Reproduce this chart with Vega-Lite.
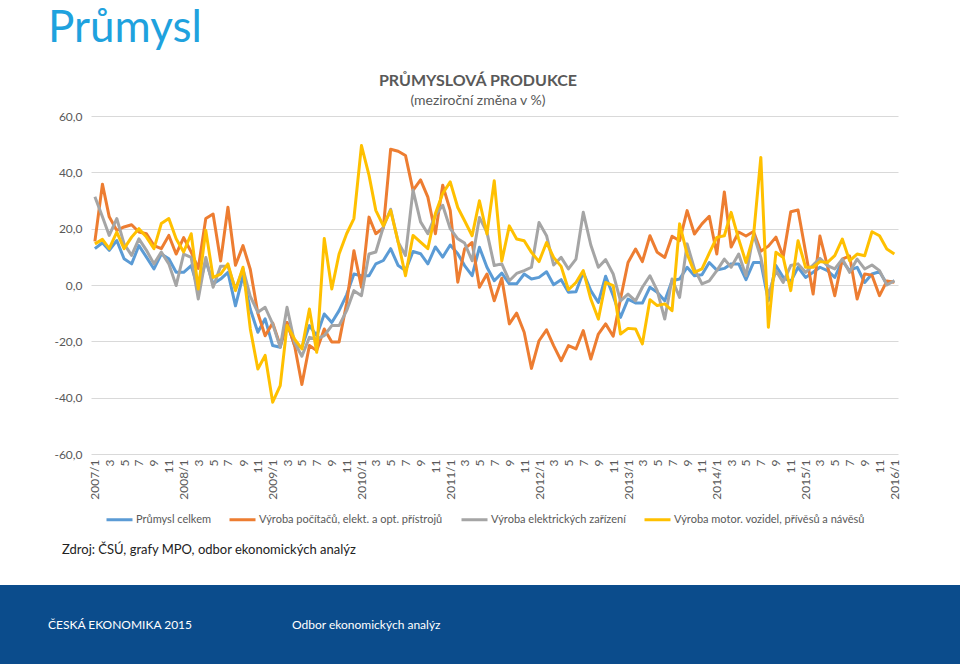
{
  "$schema": "https://vega.github.io/schema/vega-lite/v6.json",
  "padding": {"top": 7, "left": 0, "right": 0, "bottom": 0},
  "background": "white",
  "spacing": 18,
  "resolve": {"legend": {"color": "independent"}},
  "title": {"text": "Průmysl", "anchor": "start", "font": "Lato", "fontSize": 44, "fontWeight": "normal", "color": "#1FA2DE", "dx": 48, "offset": 22},
  "config": {
    "font": "Lato",
    "view": {"stroke": null},
    "axis": {"labelFont": "Lato", "labelFontSize": 12, "labelColor": "#595959", "ticks": false, "domain": false},
    "legend": {"labelFont": "Lato"},
    "locale": {"number": {"decimal": ",", "thousands": " ", "grouping": [3], "currency": ["", " Kč"], "minus": "-"}}
  },
  "vconcat": [
    {
      "width": 898,
      "height": 338,
      "title": {"text": "PRŮMYSLOVÁ PRODUKCE", "subtitle": "(meziroční změna v %)", "anchor": "middle", "frame": "group", "dx": 29, "font": "Lato", "fontSize": 16, "fontWeight": "bold", "color": "#595959", "subtitleFont": "Lato", "subtitleFontSize": 14, "subtitleColor": "#595959", "subtitlePadding": 5, "offset": 2},
      "data": {"values": [
        {"d":"2007/01/01","a":12.9,"b":15.5,"c":31.3,"e":14.6},
        {"d":"2007/02/01","a":15.0,"b":35.8,"c":24.2,"e":16.2},
        {"d":"2007/03/01","a":12.3,"b":24.2,"c":17.6,"e":12.9},
        {"d":"2007/04/01","a":15.8,"b":19.4,"c":23.6,"e":18.8},
        {"d":"2007/05/01","a":9.3,"b":20.6,"c":14.6,"e":12.9},
        {"d":"2007/06/01","a":7.5,"b":21.4,"c":10.5,"e":17.0},
        {"d":"2007/07/01","a":14.0,"b":18.8,"c":16.4,"e":20.0},
        {"d":"2007/08/01","a":9.9,"b":18.2,"c":12.3,"e":17.0},
        {"d":"2007/09/01","a":5.7,"b":14.0,"c":7.5,"e":12.9},
        {"d":"2007/10/01","a":11.0,"b":12.9,"c":11.7,"e":21.8},
        {"d":"2007/11/01","a":9.3,"b":17.6,"c":7.5,"e":23.6},
        {"d":"2007/12/01","a":4.5,"b":11.0,"c":-0.2,"e":16.4},
        {"d":"2008/01/01","a":4.5,"b":16.8,"c":11.0,"e":11.7},
        {"d":"2008/02/01","a":6.9,"b":11.7,"c":9.8,"e":18.2},
        {"d":"2008/03/01","a":-1.5,"b":5.9,"c":-5.0,"e":-1.4},
        {"d":"2008/04/01","a":8.7,"b":23.6,"c":9.8,"e":19.4},
        {"d":"2008/05/01","a":0.4,"b":25.2,"c":-0.8,"e":2.7},
        {"d":"2008/06/01","a":2.1,"b":8.5,"c":6.7,"e":3.9},
        {"d":"2008/07/01","a":4.5,"b":27.6,"c":6.7,"e":7.5},
        {"d":"2008/08/01","a":-7.4,"b":7.0,"c":-1.4,"e":-2.0},
        {"d":"2008/09/01","a":3.3,"b":14.0,"c":5.7,"e":6.3},
        {"d":"2008/10/01","a":-8.6,"b":5.5,"c":-4.0,"e":-15.6},
        {"d":"2008/11/01","a":-16.8,"b":-10.0,"c":-9.7,"e":-29.8},
        {"d":"2008/12/01","a":-12.0,"b":-18.0,"c":-7.9,"e":-25.0},
        {"d":"2009/01/01","a":-21.5,"b":-13.5,"c":-13.8,"e":-41.6},
        {"d":"2009/02/01","a":-22.1,"b":-21.5,"c":-22.1,"e":-35.7},
        {"d":"2009/03/01","a":-13.3,"b":-13.3,"c":-7.9,"e":-14.4},
        {"d":"2009/04/01","a":-21.5,"b":-21.5,"c":-20.4,"e":-19.2},
        {"d":"2009/05/01","a":-22.1,"b":-35.3,"c":-25.3,"e":-22.7},
        {"d":"2009/06/01","a":-14.4,"b":-21.5,"c":-18.6,"e":-8.5},
        {"d":"2009/07/01","a":-18.0,"b":-23.3,"c":-19.2,"e":-23.9},
        {"d":"2009/08/01","a":-10.3,"b":-15.6,"c":-18.0,"e":16.5},
        {"d":"2009/09/01","a":-13.3,"b":-20.2,"c":-14.4,"e":-1.4},
        {"d":"2009/10/01","a":-9.1,"b":-20.2,"c":-14.4,"e":11.0},
        {"d":"2009/11/01","a":-3.5,"b":-6.5,"c":-9.1,"e":18.2},
        {"d":"2009/12/01","a":3.9,"b":12.2,"c":-2.0,"e":23.6},
        {"d":"2010/01/01","a":3.3,"b":-0.8,"c":-3.8,"e":49.5},
        {"d":"2010/02/01","a":3.3,"b":24.1,"c":11.0,"e":39.0},
        {"d":"2010/03/01","a":7.5,"b":18.2,"c":11.7,"e":26.5},
        {"d":"2010/04/01","a":8.7,"b":20.3,"c":20.6,"e":21.0},
        {"d":"2010/05/01","a":12.9,"b":48.2,"c":26.9,"e":26.5},
        {"d":"2010/06/01","a":6.9,"b":47.5,"c":15.2,"e":15.2},
        {"d":"2010/07/01","a":5.1,"b":46.0,"c":10.5,"e":3.3},
        {"d":"2010/08/01","a":11.9,"b":33.6,"c":33.7,"e":17.6},
        {"d":"2010/09/01","a":11.1,"b":37.3,"c":22.4,"e":15.2},
        {"d":"2010/10/01","a":7.5,"b":31.2,"c":18.2,"e":12.9},
        {"d":"2010/11/01","a":13.5,"b":18.2,"c":24.8,"e":25.4},
        {"d":"2010/12/01","a":9.9,"b":35.4,"c":28.3,"e":32.5},
        {"d":"2011/01/01","a":14.2,"b":26.5,"c":20.0,"e":36.6},
        {"d":"2011/02/01","a":11.1,"b":1.0,"c":16.4,"e":27.5},
        {"d":"2011/03/01","a":6.9,"b":12.8,"c":14.9,"e":22.8},
        {"d":"2011/04/01","a":3.3,"b":15.1,"c":8.6,"e":17.5},
        {"d":"2011/05/01","a":13.4,"b":-0.8,"c":24.0,"e":29.9},
        {"d":"2011/06/01","a":6.3,"b":3.9,"c":18.7,"e":18.1},
        {"d":"2011/07/01","a":1.5,"b":-5.6,"c":6.9,"e":37.0},
        {"d":"2011/08/01","a":4.2,"b":2.4,"c":7.5,"e":8.5},
        {"d":"2011/09/01","a":0.4,"b":-13.8,"c":1.5,"e":21.0},
        {"d":"2011/10/01","a":0.4,"b":-10.0,"c":4.1,"e":16.3},
        {"d":"2011/11/01","a":3.9,"b":-16.8,"c":5.1,"e":15.7},
        {"d":"2011/12/01","a":2.1,"b":-29.6,"c":6.3,"e":11.6},
        {"d":"2012/01/01","a":2.7,"b":-19.8,"c":22.2,"e":8.3},
        {"d":"2012/02/01","a":4.7,"b":-15.9,"c":17.5,"e":15.1},
        {"d":"2012/03/01","a":0.1,"b":-21.5,"c":7.1,"e":9.8},
        {"d":"2012/04/01","a":1.9,"b":-26.9,"c":9.8,"e":6.6},
        {"d":"2012/05/01","a":-2.6,"b":-21.5,"c":5.7,"e":-1.7},
        {"d":"2012/06/01","a":-2.4,"b":-22.7,"c":9.2,"e":0.9},
        {"d":"2012/07/01","a":4.5,"b":-16.2,"c":25.8,"e":5.1},
        {"d":"2012/08/01","a":-2.0,"b":-26.3,"c":14.2,"e":-5.0},
        {"d":"2012/09/01","a":-6.2,"b":-17.4,"c":6.3,"e":-12.1},
        {"d":"2012/10/01","a":3.1,"b":-13.8,"c":9.0,"e":0.9},
        {"d":"2012/11/01","a":-3.8,"b":-18.2,"c":3.9,"e":-0.2},
        {"d":"2012/12/01","a":-11.5,"b":-5.0,"c":-5.6,"e":-17.4},
        {"d":"2013/01/01","a":-5.0,"b":8.0,"c":-3.2,"e":-15.4},
        {"d":"2013/02/01","a":-6.4,"b":12.8,"c":-5.6,"e":-15.6},
        {"d":"2013/03/01","a":-6.4,"b":8.3,"c":-0.8,"e":-20.9},
        {"d":"2013/04/01","a":-0.8,"b":17.5,"c":3.3,"e":-5.2},
        {"d":"2013/05/01","a":-2.6,"b":11.6,"c":-2.0,"e":-7.3},
        {"d":"2013/06/01","a":-5.6,"b":9.8,"c":-12.1,"e":-6.7},
        {"d":"2013/07/01","a":1.5,"b":17.3,"c":2.1,"e":-9.1},
        {"d":"2013/08/01","a":2.1,"b":15.7,"c":-4.4,"e":21.7},
        {"d":"2013/09/01","a":6.3,"b":26.4,"c":14.6,"e":11.0},
        {"d":"2013/10/01","a":3.3,"b":18.1,"c":5.7,"e":4.5},
        {"d":"2013/11/01","a":3.6,"b":21.7,"c":0.4,"e":5.7},
        {"d":"2013/12/01","a":8.0,"b":24.4,"c":1.5,"e":11.3},
        {"d":"2014/01/01","a":5.3,"b":11.0,"c":5.1,"e":16.9},
        {"d":"2014/02/01","a":5.9,"b":33.0,"c":9.2,"e":17.5},
        {"d":"2014/03/01","a":7.5,"b":13.5,"c":6.3,"e":25.8},
        {"d":"2014/04/01","a":7.5,"b":18.8,"c":11.0,"e":16.3},
        {"d":"2014/05/01","a":1.9,"b":17.4,"c":3.3,"e":8.0},
        {"d":"2014/06/01","a":8.0,"b":19.0,"c":18.1,"e":17.5},
        {"d":"2014/07/01","a":8.0,"b":12.0,"c":9.8,"e":45.3},
        {"d":"2014/08/01","a":-5.6,"b":13.8,"c":-3.8,"e":-15.0},
        {"d":"2014/09/01","a":6.9,"b":17.0,"c":5.1,"e":11.6},
        {"d":"2014/10/01","a":2.7,"b":10.0,"c":0.9,"e":9.8},
        {"d":"2014/11/01","a":1.2,"b":26.0,"c":6.9,"e":-2.0},
        {"d":"2014/12/01","a":6.3,"b":26.6,"c":7.5,"e":15.7},
        {"d":"2015/01/01","a":2.7,"b":11.7,"c":4.5,"e":6.3},
        {"d":"2015/02/01","a":4.5,"b":-3.2,"c":7.1,"e":6.3},
        {"d":"2015/03/01","a":6.3,"b":17.4,"c":9.5,"e":8.3},
        {"d":"2015/04/01","a":5.1,"b":6.7,"c":6.9,"e":8.0},
        {"d":"2015/05/01","a":2.7,"b":-3.8,"c":5.7,"e":10.4},
        {"d":"2015/06/01","a":8.6,"b":9.2,"c":9.2,"e":16.3},
        {"d":"2015/07/01","a":5.1,"b":10.3,"c":4.5,"e":8.6},
        {"d":"2015/08/01","a":6.3,"b":-5.0,"c":9.2,"e":11.0},
        {"d":"2015/09/01","a":0.9,"b":3.9,"c":5.7,"e":10.4},
        {"d":"2015/10/01","a":3.9,"b":3.5,"c":7.1,"e":18.9},
        {"d":"2015/11/01","a":4.7,"b":-3.8,"c":5.1,"e":17.5},
        {"d":"2015/12/01","a":0.4,"b":1.4,"c":0.0,"e":12.8},
        {"d":"2016/01/01","a":1.5,"b":1.0,"c":1.5,"e":11.0}
      ]},
      "transform": [{"fold": ["a", "b", "c", "e"], "as": ["s", "v"]}],
      "mark": {"type": "line", "strokeWidth": 3, "strokeJoin": "round"},
      "encoding": {
        "x": {
          "field": "d", "type": "temporal",
          "scale": {"domain": [{"year": 2006, "month": 12, "date": 16}, {"year": 2016, "month": 1, "date": 16}], "range": [91, 898]},
          "axis": {"title": null, "grid": false, "tickCount": {"interval": "month", "step": 2}, "labelExpr": "month(datum.value) == 0 ? year(datum.value) + '/1' : '' + (month(datum.value) + 1)", "labelAngle": -90, "labelPadding": 5, "labelFlush": false, "labelOverlap": false, "labelBound": false}
        },
        "y": {
          "field": "v", "type": "quantitative",
          "scale": {"domain": [-60, 60], "nice": false},
          "axis": {"title": null, "values": [-60, -40, -20, 0, 20, 40, 60], "format": ".1f", "offset": -91, "labelPadding": 9, "gridColor": "#d9d9d9", "gridWidth": 1}
        },
        "color": {
          "field": "s", "type": "nominal",
          "scale": {"domain": ["a", "b", "c", "e"], "range": ["#5B9BD5", "#ED7D31", "#A5A5A5", "#FFC000"]},
          "legend": {"title": null, "orient": "none", "legendX": 105, "legendY": 389, "direction": "horizontal", "symbolType": "stroke", "symbolStrokeWidth": 3, "symbolSize": 676, "labelOffset": 2, "labelFontSize": 11, "labelColor": "#595959", "labelLimit": 400, "columnPadding": 12,
            "labelExpr": "datum.label == 'a' ? 'Průmysl celkem' : datum.label == 'b' ? 'Výroba počítačů, elekt. a opt. přístrojů' : datum.label == 'c' ? 'Výroba elektrických zařízení' : 'Výroba motor. vozidel, přívěsů a návěsů'"}
        }
      }
    },
    {
      "width": 960,
      "height": 79,
      "view": {"fill": "#0B4C8C", "stroke": null},
      "title": {"text": "Zdroj: ČSÚ, grafy MPO, odbor ekonomických analýz", "anchor": "start", "frame": "group", "dx": 62, "font": "Lato", "fontSize": 13, "fontWeight": "normal", "color": "#222222", "offset": 28},
      "data": {"values": [{"t": "ČESKÁ EKONOMIKA 2015"}, {"t": "Odbor ekonomických analýz"}]},
      "mark": {"type": "text", "align": "left", "color": "white", "font": "Lato", "fontSize": 12},
      "encoding": {
        "x": {"field": "t", "type": "nominal", "scale": {"type": "point", "padding": 0, "domain": ["ČESKÁ EKONOMIKA 2015", "Odbor ekonomických analýz"], "range": [48, 292]}, "axis": null},
        "text": {"field": "t"}
      }
    }
  ]
}
